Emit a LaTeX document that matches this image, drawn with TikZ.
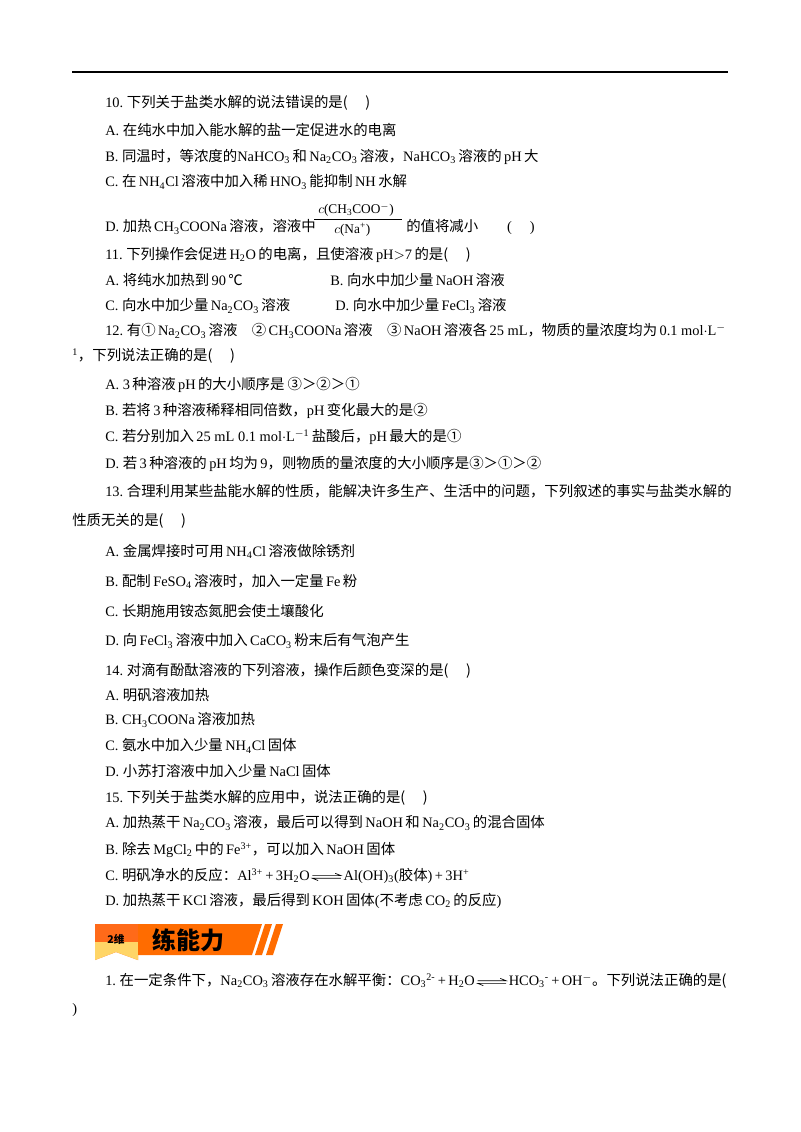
\documentclass[tikz,border=0pt]{standalone}
\usepackage{fontspec}
\setmainfont{Liberation Serif}
\newfontfamily\cjk{Noto Sans CJK SC}
\newfontfamily\cjkb{Noto Sans CJK SC Black}
\newcommand\zh[1]{{\cjk #1}}
\newcommand\sub[1]{\textsubscript{#1}}
\newcommand\sups[1]{\textsuperscript{#1}}
\newcommand\eqa{\,$\myeqarrow$\,}
\newcommand\myeqarrow{\mathrel{\vcenter{\hbox{\tikz[x=1cm,y=1cm,baseline]{\draw[line width=0.5pt] (0,0.04)--(0.75,0.04)--(0.6,0.1); \draw[line width=0.5pt] (0.75,-0.03)--(0,-0.03)--(0.15,-0.09);}}}}}
\newcommand\pl{\,+\,}
\begin{document}
\begin{tikzpicture}[x=0.75pt,y=-0.75pt,
  ln/.style={anchor=west,inner sep=0pt,font=\fontsize{10.8}{12}\selectfont}]
\useasboundingbox (0,0) rectangle (800,1132);
\fill[white] (0,0) rectangle (800,1132);
\draw[line width=1.2pt] (72,72) coordinate (r1) -- (728,72) coordinate (r2);
\node[ln] (q10) at (105,103) {10.\ \zh{下列关于盐类水解的说法错误的是(\quad\ )}};
\node[ln] (q10a) at (105,130) {A.\ \zh{在纯水中加入能水解的盐一定促进水的电离}};
\node[ln] (q10b) at (105,157) {B.\ \zh{同温时，等浓度的}NaHCO\sub3\,\zh{和}\,Na\sub2CO\sub3\,\zh{溶液，}NaHCO\sub3\,\zh{溶液的}\,pH\,\zh{大}};
\node[ln] (q10c) at (105,182) {C.\ \zh{在}\,NH\sub4Cl\,\zh{溶液中加入稀}\,HNO\sub3\,\zh{能抑制}\,NH\,\zh{水解}};
\node[ln] (q10d) at (105,227) {D.\ \zh{加热}\,CH\sub3COONa\,\zh{溶液，溶液中}};
\node[ln,font=\fontsize{10}{11}\selectfont] (fr) at (318,210) {$c$(CH\sub3COO\sups{$-$})};
\draw[line width=0.7pt] (314,219) -- (402,219);
\node[ln,font=\fontsize{10}{11}\selectfont] (fr2) at (334,230) {$c$(Na\sups{+})};
\node[ln] (q10d2) at (406,227) {\zh{的值将减小}\qquad(\quad\ )};
\node[ln] (q11) at (105,255) {11.\ \zh{下列操作会促进}\,H\sub2O\,\zh{的电离，且使溶液}\,pH$>$7\,\zh{的是(\quad\ )}};
\node[ln] (q11a) at (105,280) {A.\ \zh{将纯水加热到}\,90\,\zh{℃}};
\node[ln] (q11b) at (330,280) {B.\ \zh{向水中加少量}\,NaOH\,\zh{溶液}};
\node[ln] (q11c) at (105,306) {C.\ \zh{向水中加少量}\,Na\sub2CO\sub3\,\zh{溶液}};
\node[ln] (q11d) at (335,306) {D.\ \zh{向水中加少量}\,FeCl\sub3\,\zh{溶液}};
\node[ln] (q12) at (105,331) {12.\ \zh{有①}\,Na\sub2CO\sub3\,\zh{溶液\quad ②}\,CH\sub3COONa\,\zh{溶液\quad ③}\,NaOH\,\zh{溶液各}\,25 mL\zh{，物质的量浓度均为}\,0.1 mol$\cdot$L\sups{$-$}};
\node[ln] (q12x) at (72,356) {\sups{1}\zh{，下列说法正确的是(\quad\ )}};
\node[ln] (q12a) at (105,385) {A.\ 3\,\zh{种溶液}\,pH\,\zh{的大小顺序是\ ③＞②＞①}};
\node[ln] (q12b) at (105,411) {B.\ \zh{若将}\,3\,\zh{种溶液稀释相同倍数，}pH\,\zh{变化最大的是②}};
\node[ln] (q12c) at (105,437) {C.\ \zh{若分别加入}\,25 mL 0.1 mol$\cdot$L\sups{$-$1}\,\zh{盐酸后，}pH\,\zh{最大的是①}};
\node[ln] (q12d) at (105,464) {D.\ \zh{若}\,3\,\zh{种溶液的}\,pH\,\zh{均为}\,9\zh{，则物质的量浓度的大小顺序是③＞①＞②}};
\node[ln] (q13) at (105,491) {13.\ \zh{合理利用某些盐能水解的性质，能解决许多生产、生活中的问题，下列叙述的事实与盐类水解的}};
\node[ln] (q13x) at (72,521) {\zh{性质无关的是(\quad\ )}};
\node[ln] (q13a) at (105,551) {A.\ \zh{金属焊接时可用}\,NH\sub4Cl\,\zh{溶液做除锈剂}};
\node[ln] (q13b) at (105,581) {B.\ \zh{配制}\,FeSO\sub4\,\zh{溶液时，加入一定量}\,Fe\,\zh{粉}};
\node[ln] (q13c) at (105,611) {C.\ \zh{长期施用铵态氮肥会使土壤酸化}};
\node[ln] (q13d) at (105,641) {D.\ \zh{向}\,FeCl\sub3\,\zh{溶液中加入}\,CaCO\sub3\,\zh{粉末后有气泡产生}};
\node[ln] (q14) at (105,671) {14.\ \zh{对滴有酚酞溶液的下列溶液，操作后颜色变深的是(\quad\ )}};
\node[ln] (q14a) at (105,695) {A.\ \zh{明矾溶液加热}};
\node[ln] (q14b) at (105,720) {B.\ CH\sub3COONa\,\zh{溶液加热}};
\node[ln] (q14c) at (105,746) {C.\ \zh{氨水中加入少量}\,NH\sub4Cl\,\zh{固体}};
\node[ln] (q14d) at (105,771) {D.\ \zh{小苏打溶液中加入少量}\,NaCl\,\zh{固体}};
\node[ln] (q15) at (105,798) {15.\ \zh{下列关于盐类水解的应用中，说法正确的是(\quad\ )}};
\node[ln] (q15a) at (105,823) {A.\ \zh{加热蒸干}\,Na\sub2CO\sub3\,\zh{溶液，最后可以得到}\,NaOH\,\zh{和}\,Na\sub2CO\sub3\,\zh{的混合固体}};
\node[ln] (q15b) at (105,850) {B.\ \zh{除去}\,MgCl\sub2\,\zh{中的}\,Fe\sups{3+}\zh{，可以加入}\,NaOH\,\zh{固体}};
\node[ln] (q15c) at (105,876) {C.\ \zh{明矾净水的反应：}Al\sups{3+}\pl 3H\sub2O\eqa Al(OH)\sub3(\zh{胶体})\pl 3H\sups{+}};
\node[ln] (q15d) at (105,901) {D.\ \zh{加热蒸干}\,KCl\,\zh{溶液，最后得到}\,KOH\,\zh{固体}(\zh{不考虑}\,CO\sub2\,\zh{的反应})};
% banner
\fill[orange!70!red!90] (95,924) -- (138,924) -- (138,960) -- (116,952) -- (95,960) -- cycle;
\fill[orange!55!yellow!60] (95,942) -- (138,942) -- (138,960) -- (116,952) -- (95,960) -- cycle;
\fill[orange!85!red] (138,924) -- (262,924) -- (252,955) -- (138,955) -- cycle;
\fill[orange!85!red] (265,924) -- (272,924) -- (262,955) -- (255,955) -- cycle;
\fill[orange!85!red] (276,924) -- (283,924) -- (273,955) -- (266,955) -- cycle;
\node[anchor=center,inner sep=0pt] (b1) at (116,939) {\cjkb\fontsize{8}{9}\selectfont 2维};
\node[anchor=west,inner sep=0pt] (b2) at (152,940) {\cjkb\fontsize{18}{20}\selectfont 练能力};
\node[ln] (p1) at (105,981) {1.\ \zh{在一定条件下，}Na\sub2CO\sub3\,\zh{溶液存在水解平衡：}CO\sub3\sups{2-}\pl H\sub2O\eqa HCO\sub3\sups{-}\pl OH\sups{$-$}\zh{。下列说法正确的是(}};
\node[ln] (p1x) at (72,1010) {)};
\end{tikzpicture}
\end{document}
